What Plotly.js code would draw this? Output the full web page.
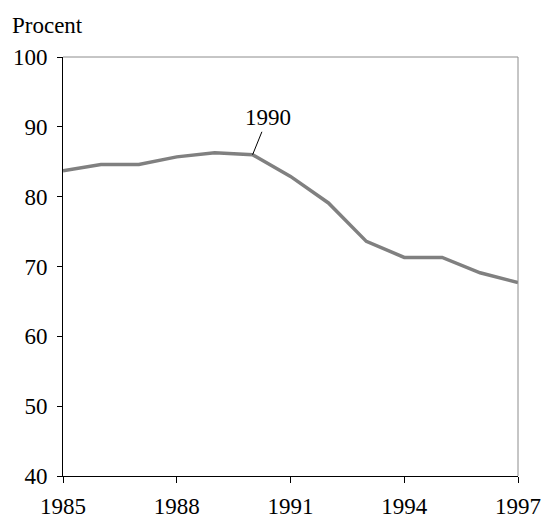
<!DOCTYPE html>
<html><head><meta charset="utf-8">
<script src="https://cdn.plot.ly/plotly-3.0.1.min.js"></script>
<style>body{margin:0;padding:0;background:#fff}#chart{width:544px;height:519px}</style>
</head><body><div id="chart"></div>
<script>
const years = [1985,1986,1987,1988,1989,1990,1991,1992,1993,1994,1995,1996,1997];
const values = [83.7,84.6,84.6,85.7,86.3,86.0,82.9,79.1,73.6,71.3,71.3,69.1,67.7];
const xTicks = [1985,1988,1991,1994,1997];
const yTicks = [40,50,60,70,80,90,100];
const yLabel = "Procent";
const markYear = 1990;

const font = {family: "Liberation Serif, Times New Roman, serif", size: 23, color: "#000"};
const trace = {x: years, y: values, type: "scatter", mode: "lines",
  line: {color: "#808080", width: 3.5}, hoverinfo: "skip"};
const layout = {
  width: 544, height: 519,
  margin: {l: 63, r: 26, t: 57, b: 43},
  paper_bgcolor: "#fff", plot_bgcolor: "#fff",
  showlegend: false, font: font,
  xaxis: {range: [1985, 1997], tickvals: xTicks, ticktext: xTicks.map(String),
    showgrid: false, zeroline: false, showline: true, linecolor: "#000", linewidth: 1,
    ticks: "outside", ticklen: 6, tickcolor: "#000", tickfont: font, ticklabelstandoff: 3},
  yaxis: {range: [40, 100], tickvals: yTicks, showgrid: false, zeroline: false,
    showline: true, linecolor: "#000", linewidth: 1,
    ticks: "outside", ticklen: 5, tickcolor: "#000", tickfont: font, ticklabelstandoff: 5},
  shapes: [
    {type: "line", xref: "paper", yref: "paper", x0: 0, x1: 1, y0: 1, y1: 1, line: {color: "#8c8c8c", width: 1}},
    {type: "line", xref: "paper", yref: "paper", x0: 1, x1: 1, y0: 0, y1: 1, line: {color: "#8c8c8c", width: 1}}
  ],
  annotations: [
    {xref: "paper", yref: "paper", x: -0.117, y: 1.041, xanchor: "left", yanchor: "bottom",
     text: yLabel, showarrow: false, font: {family: font.family, size: 23, color: "#000"}},
    {x: markYear, y: values[years.indexOf(markYear)], text: String(markYear), showarrow: true,
     arrowhead: 0, arrowwidth: 1, arrowcolor: "#000", ax: 15, ay: -37, standoff: 0,
     font: {family: font.family, size: 23, color: "#000"}}
  ]
};
Plotly.newPlot("chart", [trace], layout, {staticPlot: true, displayModeBar: false});
</script></body></html>
